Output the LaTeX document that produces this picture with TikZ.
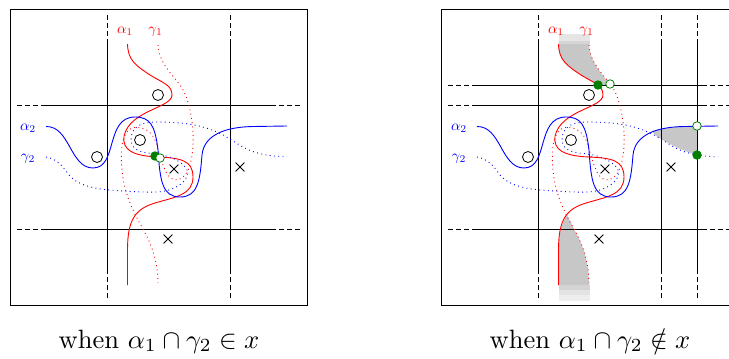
\documentclass[tikz,border=0pt]{standalone}
\usepackage{graphicx}
\usetikzlibrary{shapes.misc}
\definecolor{regiongray}{gray}{0.78}
\tikzset{
  frame/.style={black,line width=0.9pt},
  gridline/.style={black,line width=0.8pt},
  griddash/.style={black,line width=0.8pt,dash pattern=on 5pt off 3pt},
  solidred/.style={red,line width=0.9pt},
  dotred/.style={red,line width=0.9pt,dash pattern=on 0.9pt off 3.4pt},
  solidblue/.style={blue,line width=0.9pt},
  dotblue/.style={blue,line width=0.9pt,dash pattern=on 0.9pt off 3.4pt},
  basept/.style={circle,draw=black,line width=0.8pt,inner sep=0,minimum size=11pt},
  crossmark/.style={cross out,draw=black,line width=0.8pt,inner sep=0,minimum size=8pt},
  greenfull/.style={circle,draw=green!50!black,fill=green!50!black,line width=0.8pt,inner sep=0,minimum size=8.5pt},
  greenopen/.style={circle,draw=green!50!black,fill=white,line width=0.8pt,inner sep=0,minimum size=8.5pt},
  redlabel/.style={red,inner sep=0},
  bluelabel/.style={blue,inner sep=0},
  captext/.style={black,inner sep=0,anchor=base}
}
\newcommand{\capbox}[1]{\scalebox{2.65}{#1}}
\newcommand{\labbox}[1]{\scalebox{1.47}{#1}}
\newcommand{\commonpart}[1]{%
  \draw[frame] (10,9) rectangle (307,305);
  \foreach \xx in {107,230}{
    \draw[gridline] (\xx,42)--(\xx,270);
    \draw[griddash] (\xx,15)--(\xx,42);
    \draw[griddash] (\xx,298)--(\xx,270);
  }
  \foreach \yy in {105,229}{
    \draw[gridline] (42,\yy)--(275,\yy);
    \draw[griddash] (17,\yy)--(42,\yy);
    \draw[griddash] (300,\yy)--(275,\yy);
  }
  \draw[solidred] (127.5,44) .. controls (128,60) and (135,65) .. (150,75)
    .. controls (163,83) and (172,85) .. (172,95)
    .. controls (172,108) and (130,110) .. (124,136)
    .. controls (122,150) and (133,156) .. (158,157)
    .. controls (180,158) and (193,160) .. (193,177)
    .. controls (193,195) and (175,197) .. (155,203)
    .. controls (135,209) and (127.5,220) .. (127.5,250) -- (127.5,285);
  \draw[dotred] (158,45) .. controls (159,62) and (170,72) .. (180,85)
    .. controls (188,96) and (192,115) .. (193,133)
    .. controls (194,155) and (190,178) .. (177,180)
    .. controls (165,181) and (162,160) .. (155,140)
    .. controls (150,128) and (138,126) .. (132,128)
    .. controls (122,132) and (120,150) .. (122,170)
    .. controls (124,195) and (135,215) .. (143,229)
    .. controls (150,242) and (158,258) .. (158,285);
  \draw[solidblue] (46,126.5) .. controls (70,126) and (70,168) .. (93,168)
    .. controls (118,168) and (105,117) .. (135,117)
    .. controls (150,117) and (155,125) .. (158,150)
    .. controls (160,180) and (162,197) .. (180,197)
    .. controls (198,197) and (200,180) .. (202,155)
    .. controls (204,135) and (225,127) .. (253,126.5) -- (287,126);
  \draw[dotblue] (46,157) .. controls (62,160) and (65,172) .. (72,178)
    .. controls (82,187) and (100,190) .. (125,191)
    .. controls (140,192) and (155,193) .. (165,191)
    .. controls (180,188) and (190,178) .. (187,170)
    .. controls (184,162) and (170,156) .. (157,154)
    .. controls (145,153) and (132,152) .. (131,140)
    .. controls (131,128) and (140,122) .. (155,122)
    .. controls (185,122) and (205,125) .. (225,136)
    .. controls (245,148) and (250,155) .. (287,157);
  \node[basept] (circA#1) at (158,95) {};
  \node[basept] (circB#1) at (97,157) {};
  \node[basept] (circC#1) at (140,140) {};
  \node[crossmark] (crossA#1) at (174,169) {};
  \node[crossmark] (crossB#1) at (240,167) {};
  \node[crossmark] (crossC#1) at (168,239) {};
  \node[redlabel] (alA#1) at (125,31) {\labbox{$\alpha_1$}};
  \node[redlabel] (gaA#1) at (155.5,32) {\labbox{$\gamma_1$}};
  \node[bluelabel] (alB#1) at (28,128) {\labbox{$\alpha_2$}};
  \node[bluelabel] (gaB#1) at (28,159) {\labbox{$\gamma_2$}};
}
\begin{document}
\begin{tikzpicture}[x=1pt,y=-1pt]
\useasboundingbox (0,0) rectangle (729,359);
\clip (0,0) rectangle (729,359);
% left panel
\begin{scope}
  \commonpart{L}
  \node[greenfull] (fullL) at (155,156) {};
  \node[greenopen] (openL) at (160,158) {};
  \node[captext] (capL) at (159,348) {\capbox{when $\alpha_1\cap\gamma_2\in x$}};
\end{scope}
% right panel
\begin{scope}[xshift=431pt]
  % shaded regions
  \fill[black!10] (128,34) rectangle (159,41);
  \fill[black!16] (128,41) rectangle (159,44);
  \fill[regiongray] (127.5,44) .. controls (128,60) and (135,65) .. (150,75) .. controls (158,80) and (163,83) .. (167,85)
    -- (179,85) .. controls (170,72) and (159,62) .. (158,45) -- (158,44) -- cycle;
  \fill[black!17] (128,285) rectangle (158.5,290);
  \fill[black!11] (128,290) rectangle (158.5,295);
  \fill[black!7] (128,295) rectangle (158.5,301);
  \fill[regiongray] (136,215) .. controls (130,225) and (127.5,235) .. (127.5,255) -- (127.5,285) -- (158,285)
    .. controls (158,258) and (150,242) .. (143,229) -- cycle;
  \fill[regiongray] (221,131) .. controls (231,128) and (245,126.5) .. (266,126.3) -- (266,155)
    .. controls (250,150) and (240,145) .. (225,136) -- cycle;
  \commonpart{R}
  \draw[gridline] (42,85)--(275,85);
  \draw[griddash] (17,85)--(42,85);
  \draw[griddash] (300,85)--(275,85);
  \draw[gridline] (266,42)--(266,270);
  \draw[griddash] (266,15)--(266,42);
  \draw[griddash] (266,298)--(266,270);
  \node[greenfull] (fullRa) at (167,85) {};
  \node[greenopen] (openRa) at (179,84) {};
  \node[greenopen] (openRb) at (266,126) {};
  \node[greenfull] (fullRb) at (266,155) {};
  \node[captext] (capR) at (159,348) {\capbox{when $\alpha_1\cap\gamma_2\notin x$}};
\end{scope}
\end{tikzpicture}
\end{document}
